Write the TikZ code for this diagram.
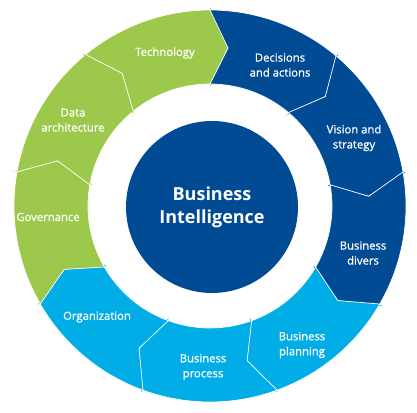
\documentclass[tikz,border=0pt]{standalone}
\usepackage{fontspec}
\setmainfont{Open Sans}
\newfontfamily\lblfont[FakeBold=0.8]{Open Sans}
\usepackage{tikz}
\usetikzlibrary{calc}
\definecolor{cgreen}{HTML}{9CC94B}
\definecolor{cdark}{HTML}{004B93}
\definecolor{clight}{HTML}{00ADE6}
\tikzset{
  lbl/.style={text=white,align=center,inner sep=1pt,font=\lblfont\fontsize{11.3}{15}\selectfont},
  seg/.style={draw=white,line width=0.7pt,line join=miter}
}
\begin{document}
\begin{tikzpicture}[x=1pt,y=1pt]
    \useasboundingbox (0,0) rectangle (417,412);
    \coordinate (c) at (210,206);
    % ring of arrows, clockwise
    \foreach \a/\col in {130/cgreen,90/cdark,50/cdark,10/cdark,-30/clight,-70/clight,-110/clight,-150/cgreen,-190/cgreen}{
      \pgfmathsetmacro{\b}{\a-40}
      \fill[\col,seg] ($(c)+(\a:196pt)$) arc[start angle=\a,end angle=\b,radius=196pt]
        -- ($(c)+(\b:201pt)$) -- ($(c)+(\b-6.5:159pt)$) -- ($(c)+(\b:117pt)$)
        -- ($(c)+(\b:122pt)$) arc[start angle=\b,end angle=\a,radius=122pt]
        -- ($(c)+(\a-6.5:159pt)$) -- cycle;
    }
    \node[circle,fill=cdark,minimum size=172pt,inner sep=0pt] (bi) at (212,205) {};
    \node[text=white,align=center,font=\fontsize{18}{23}\selectfont\bfseries] (bit) at (bi) {Business\\Intelligence};
    \node[lbl] (tech) at (165,359) {Technology};
    \node[lbl] (dec) at (280,347) {Decisions\\and actions};
    \node[lbl] (vis) at (354,274) {Vision and\\strategy};
    \node[lbl] (div) at (363,159) {Business\\divers};
    \node[lbl] (plan) at (302,67) {Business\\planning};
    \node[lbl] (proc) at (203,45) {Business\\process};
    \node[lbl] (org) at (97,95) {Organization};
    \node[lbl] (gov) at (48,195) {Governance};
    \node[lbl] (data) at (73,292) {Data\\architecture};
  \end{tikzpicture}
\end{document}
